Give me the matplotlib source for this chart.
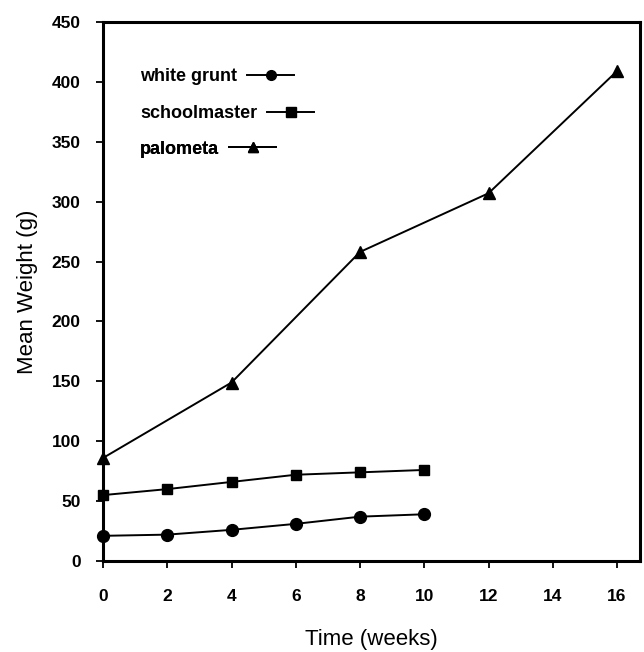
import matplotlib
matplotlib.use("Agg")
import matplotlib.pyplot as plt
from matplotlib.lines import Line2D

plt.rcParams['font.family'] = ['Liberation Sans', 'DejaVu Sans']

# weeks and mean weights (g)
grunt_weeks = [0, 2, 4, 6, 8, 10]
grunt_weight = [21, 22, 26, 31, 37, 39]

school_weeks = [0, 2, 4, 6, 8, 10]
school_weight = [55, 60, 66, 72, 74, 76]

palo_weeks = [0, 4, 8, 12, 16]
palo_weight = [86, 149, 258, 307, 409]

xticks = [0, 2, 4, 6, 8, 10, 12, 14, 16]
yticks = [0, 50, 100, 150, 200, 250, 300, 350, 400, 450]

names = ['white grunt', 'schoolmaster', 'palometa']
markers = ['o', 's', '^']

fig = plt.figure(figsize=(6.44, 6.52), dpi=100)
ax = fig.add_axes([0.16, 0.1396, 0.834, 0.8267])

ax.plot(grunt_weeks, grunt_weight, color='black', lw=1.4, marker='o', ms=8.5,
        clip_on=False, zorder=3)
ax.plot(school_weeks, school_weight, color='black', lw=1.4, marker='s', ms=7.5,
        clip_on=False, zorder=3)
ax.plot(palo_weeks, palo_weight, color='black', lw=1.4, marker='^', ms=8.5,
        clip_on=False, zorder=3)

ax.set_xlim(0, 16.72)
ax.set_ylim(0, 450)
ax.set_xticks(xticks)
ax.set_yticks(yticks)
ax.tick_params(direction='out', length=5, width=1.3, labelsize=12.5)
ax.tick_params(axis='x', pad=15)
ax.tick_params(axis='y', pad=11)
for lbl in ax.get_xticklabels() + ax.get_yticklabels():
    lbl.set_fontweight('bold')

for s in ax.spines.values():
    s.set_linewidth(2.2)

ax.set_xlabel('Time (weeks)', fontsize=16, labelpad=18)
ax.set_ylabel('Mean Weight (g)', fontsize=16, labelpad=10)

# one legend per series so the text stays left aligned with the handle after it
rows_y = [0.898, 0.830, 0.764]
for name, m, yy in zip(names, markers, rows_y):
    h = Line2D([], [], color='black', lw=1.4, marker=m, ms=7)
    leg = ax.legend([h], [name], loc='center left', bbox_to_anchor=(0.069, yy),
                    frameon=False, markerfirst=False, handlelength=2.6,
                    handletextpad=0.55, borderpad=0, borderaxespad=0,
                    prop={'size': 13, 'weight': 'bold'})
    ax.add_artist(leg)

fig.savefig('out.png', dpi=100)
